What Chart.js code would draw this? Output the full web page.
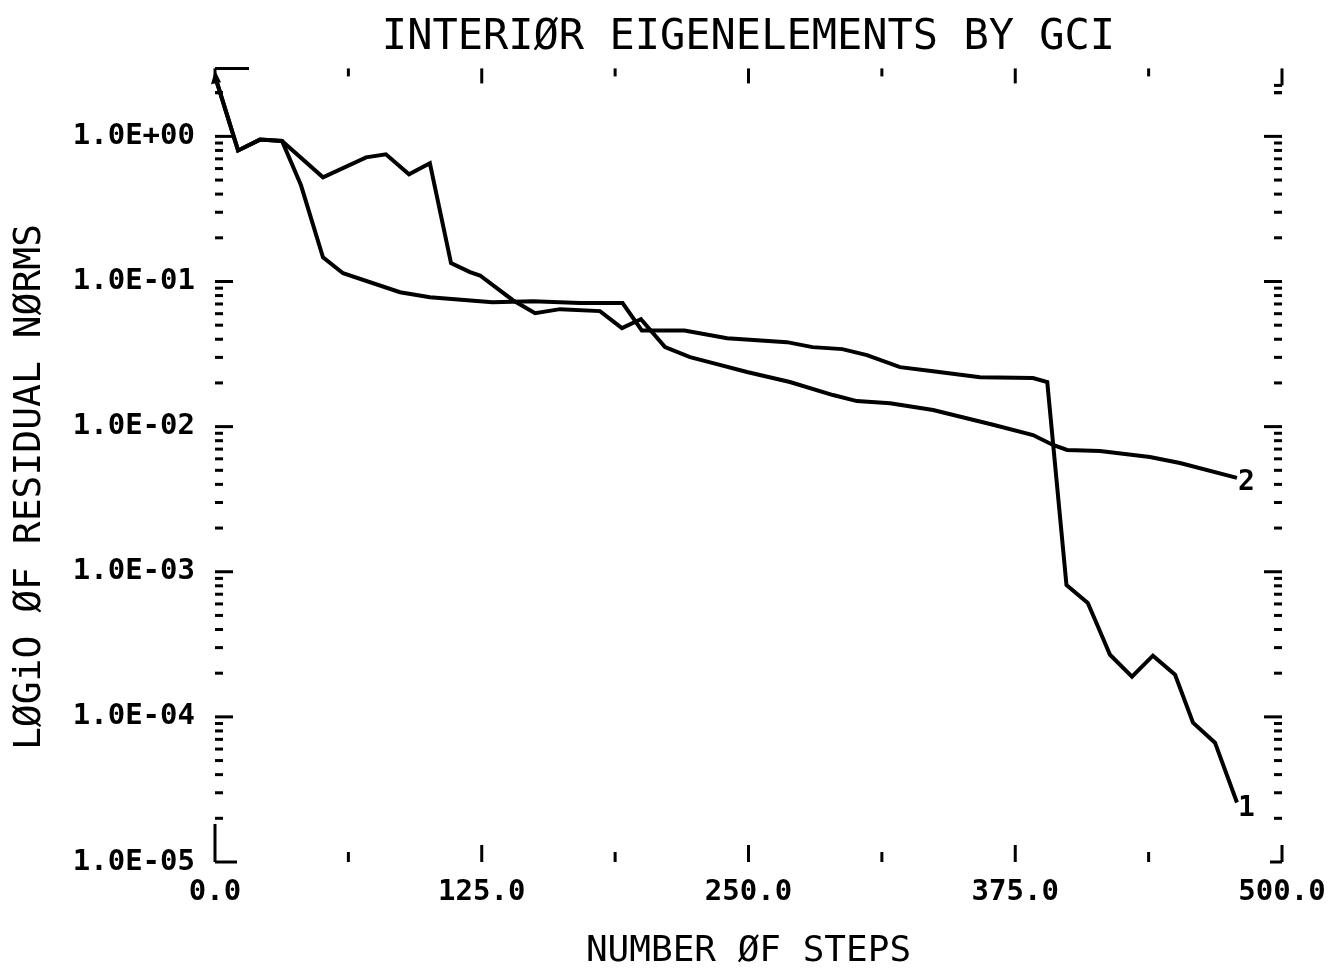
<!DOCTYPE html>
<html lang="en">
<head>
    <meta charset="UTF-8">
    <title>Interior eigenelements by GCI</title>
    <style>
        html, body { margin: 0; padding: 0; background: #fff; overflow: hidden; }
        #wrap { width: 1329px; height: 973px; }
        canvas { display: block; }
    </style>
</head>
<body>
    <div id="wrap">
        <canvas id="gciChart" width="1329" height="973"></canvas>
    </div>

    <script src="https://cdn.jsdelivr.net/npm/chart.js"></script>
    <script>
        // curve 1 (ends near 2.5e-5)
        const steps1 = [0, 10.8, 21.1, 31.4, 40.3, 50.6, 60, 86.7, 100.7, 130, 149, 171, 191,
                        200, 220, 240, 268, 280, 294, 305.5, 321, 336.5, 358.5, 383.3, 390,
                        399, 409, 413.8, 419.4, 429.7, 439.5, 449.9, 458.3, 468.6, 478.9];
        const norms1 = [2.6, 0.80, 0.95, 0.93, 0.46, 0.147, 0.114, 0.0844, 0.078, 0.072, 0.073, 0.071, 0.071,
                        0.046, 0.046, 0.0407, 0.0382, 0.0353, 0.0342, 0.0311, 0.0257, 0.0241, 0.0219, 0.0216, 0.0203,
                        0.00081, 0.00061, 0.000418, 0.000268, 0.000189, 0.000264, 0.000195, 0.0000912, 0.0000664, 0.0000257];

        // curve 2 (ends near 4.4e-3)
        const steps2 = [0, 10.8, 21.1, 31.4, 50.6, 70.8, 80.1, 90.9, 100.7, 110.6, 119.5, 124.2, 139.6,
                        150, 161.7, 180.4, 190.7, 199.6, 210.9, 222.6, 233.4, 249.3, 269.4, 289.6,
                        300.8, 316.3, 336.5, 364.6, 383.3, 392.7, 399.3, 414.7, 438.1, 452.2, 478.9];
        const norms2 = [2.6, 0.80, 0.95, 0.93, 0.522, 0.717, 0.752, 0.548, 0.652, 0.134, 0.116, 0.110, 0.0743,
                        0.0605, 0.0645, 0.0625, 0.0477, 0.055, 0.0353, 0.0301, 0.0274, 0.0238, 0.0203, 0.0165,
                        0.015, 0.0145, 0.013, 0.0103, 0.00875, 0.00747, 0.0069, 0.0068, 0.00618, 0.00562, 0.00443];

        const curveLabels = ['1', '2'];
        const decades = [1e-5, 1e-4, 1e-3, 1e-2, 1e-1, 1];
        const xTickStep = 125;
        const yMin = 1e-5;
        const yMax = 2.94;

        const MONO = '"DejaVu Sans Mono", "Liberation Mono", monospace';

        function toPoints(xs, ys) {
            return xs.map((x, i) => ({ x: x, y: ys[i] }));
        }

        // plotter style frame: inward tick marks on all four sides, corner brackets
        const plotterFrame = {
            id: 'plotterFrame',
            afterDraw(chart) {
                const ctx = chart.ctx;
                const xs = chart.scales.x, ys = chart.scales.y;
                const a = chart.chartArea;
                ctx.save();
                ctx.strokeStyle = '#000';
                ctx.lineWidth = 3;
                ctx.lineCap = 'butt';
                const seg = (x1, y1, x2, y2) => {
                    ctx.beginPath(); ctx.moveTo(x1, y1); ctx.lineTo(x2, y2); ctx.stroke();
                };

                // log ticks left and right
                for (let e = -5; e <= 0; e++) {
                    for (let m = 1; m <= 9; m++) {
                        const v = m * Math.pow(10, e);
                        if (v <= yMin || v > yMax) continue;
                        const py = ys.getPixelForValue(v);
                        const len = m === 1 ? 18 : 8;
                        seg(a.left, py, a.left + len, py);
                        seg(a.right, py, a.right - len, py);
                    }
                }
                // 2.0 in the top partial decade
                const p2 = ys.getPixelForValue(2);
                seg(a.left, p2, a.left + 8, p2);
                seg(a.right, p2, a.right - 8, p2);

                // linear ticks top and bottom
                for (let v = xTickStep / 2; v < 500; v += xTickStep / 2) {
                    const px = xs.getPixelForValue(v);
                    const major = (v % xTickStep) === 0;
                    seg(px, a.bottom, px, a.bottom - (major ? 17 : 10));
                    seg(px, a.top, px, a.top + (major ? 15 : 8));
                }

                // corner brackets
                seg(a.left, a.top, a.left + 34, a.top);
                seg(a.left, a.top, a.left, a.top + 14);
                seg(a.left, a.bottom, a.left + 22, a.bottom);
                seg(a.left, a.bottom, a.left, a.bottom - 38);
                seg(a.right, a.bottom, a.right - 12, a.bottom);
                seg(a.right, a.bottom, a.right, a.bottom - 17);
                seg(a.right, a.top, a.right, a.top + 17);
                seg(a.right, a.top + 17, a.right - 8, a.top + 17);

                // small arrow head at the start of the curves
                const sx = xs.getPixelForValue(steps1[0]), sy = ys.getPixelForValue(norms1[0]);
                ctx.fillStyle = '#000';
                ctx.beginPath();
                ctx.moveTo(sx, sy - 6);
                ctx.lineTo(sx - 4, sy + 8);
                ctx.lineTo(sx + 6, sy + 6);
                ctx.closePath();
                ctx.fill();

                // curve end labels
                ctx.font = 'bold 28px ' + MONO;
                ctx.textBaseline = 'middle';
                ctx.textAlign = 'left';
                chart.data.datasets.forEach((ds, i) => {
                    const last = ds.data[ds.data.length - 1];
                    const px = xs.getPixelForValue(last.x);
                    const py = ys.getPixelForValue(last.y);
                    ctx.fillText(curveLabels[i], px + 1, py + (i === 0 ? 6 : 5));
                });

                // y axis title
                ctx.font = '38px ' + MONO;
                ctx.textAlign = 'center';
                ctx.translate(30, 487);
                ctx.rotate(-Math.PI / 2);
                ctx.fillText('LØGiO ØF RESIDUAL NØRMS', 0, 0);
                ctx.restore();
            }
        };

        const ctx = document.getElementById('gciChart').getContext('2d');
        const chart = new Chart(ctx, {
            type: 'line',
            data: {
                datasets: [
                    { data: toPoints(steps1, norms1) },
                    { data: toPoints(steps2, norms2) }
                ].map(d => Object.assign(d, {
                    borderColor: '#000',
                    borderWidth: 4,
                    pointRadius: 0,
                    tension: 0,
                    fill: false
                }))
            },
            options: {
                responsive: false,
                animation: false,
                layout: { padding: { left: 0, right: 47, top: 0, bottom: 0 } },
                plugins: {
                    legend: { display: false },
                    tooltip: { enabled: false },
                    title: {
                        display: true,
                        fullSize: false,
                        text: 'INTERIØR EIGENELEMENTS BY GCI',
                        color: '#000',
                        font: { family: MONO, size: 42, weight: 'normal', lineHeight: 1.2 },
                        padding: { top: 13, bottom: 5 }
                    }
                },
                scales: {
                    x: {
                        type: 'linear',
                        min: 0,
                        max: 500,
                        grid: { display: false },
                        border: { display: false },
                        ticks: {
                            stepSize: xTickStep,
                            color: '#000',
                            padding: 5,
                            maxRotation: 0,
                            font: { family: MONO, size: 29, weight: 'bold' },
                            callback: v => v.toFixed(1)
                        },
                        title: {
                            display: true,
                            text: 'NUMBER ØF STEPS',
                            color: '#000',
                            font: { family: MONO, size: 36, lineHeight: 1 },
                            padding: { top: 0, bottom: 3 }
                        },
                        afterFit: s => { s.height = 111; s.paddingLeft = 0; s.paddingRight = 0; }
                    },
                    y: {
                        type: 'logarithmic',
                        min: yMin,
                        max: yMax,
                        grid: { display: false },
                        border: { display: false },
                        ticks: {
                            color: '#000',
                            padding: 12,
                            font: { family: MONO, size: 29, weight: 'bold' },
                            callback: v => {
                                const e = Math.round(Math.log10(v));
                                const s = Math.abs(e).toString().padStart(2, '0');
                                return '1.0E' + (e < 0 ? '-' : '+') + s;
                            }
                        },
                        afterBuildTicks: s => { s.ticks = decades.map(v => ({ value: v })); },
                        afterFit: s => { s.width = 215; s.paddingTop = 0; s.paddingBottom = 0; }
                    }
                }
            },
            plugins: [plotterFrame]
        });
    </script>
</body>
</html>
